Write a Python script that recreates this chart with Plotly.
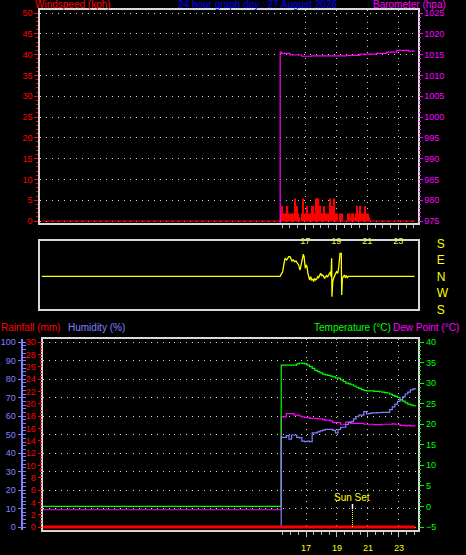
import plotly.graph_objects as go

W, H = 466, 555
FONT = "Liberation Sans, Arial, sans-serif"

# ---------------- data ----------------
date_title = "24 hour graph day : 27 August 2026"
hour_ticks = [17, 19, 21, 23]
hour_tick_labels = ["17", "19", "21", "23"]
half_hour_ticks = [15.5, 16, 16.5, 17.5, 18, 18.5, 19.5, 20, 20.5, 21.5, 22, 22.5, 23.5, 24]
day_span = [0, 24.05]

wind_tick_vals = [0, 5, 10, 15, 20, 25, 30, 35, 40, 45, 50]
baro_tick_vals = [975, 980, 985, 990, 995, 1000, 1005, 1010, 1015, 1020, 1025]
dir_tick_vals = [180, 90, 0, -90, -180]
dir_tick_text = ["S", "E", "N", "W", "S"]
rain_tick_vals = [0, 2, 4, 6, 8, 10, 12, 14, 16, 18, 20, 22, 24, 26, 28, 30]
hum_tick_vals = [0, 10, 20, 30, 40, 50, 60, 70, 80, 90, 100]
temp_tick_vals = [-5, 0, 5, 10, 15, 20, 25, 30, 35, 40]

# windspeed (kph), 5-minute samples from 15.4 h
wind_start = 15.4
wind_step = 1 / 12
wind_kph = [1.8, 3.6, 1.8, 1.8, 1.8, 3.6, 1.8, 0.9, 1.8, 1.8,
            1.8, 5.4, 3.6, 1.8, 0.9, 0.0, 1.8, 5.4, 1.8, 1.8,
            3.6, 0.9, 1.8, 1.8, 3.6, 3.6, 1.8, 5.4, 5.4, 5.4,
            3.6, 1.8, 1.8, 3.6, 1.8, 1.8, 1.8, 1.8, 5.4, 3.6,
            3.6, 5.4, 1.8, 1.8, 0.0, 0.0, 1.8, 1.8, 0.0, 0.0,
            0.0, 0.0, 1.8, 1.8, 0.9, 1.8, 1.8, 0.9, 1.8, 3.6,
            1.8, 3.6, 1.8, 1.8, 1.8, 3.6, 1.8, 1.8, 0.9]
wind_hours = [wind_start + i * wind_step for i in range(len(wind_kph))]
wind_baseline = [0, 0]

# barometer (hpa)
baro_hours = [0, 15.38, 15.48, 16.01, 16.77, 17.41, 19.67, 20.53, 21.6, 22.25, 22.9, 23.65, 24.05]
baro_hpa = [0, 1015.6, 1015.3, 1014.9, 1014.6, 1014.7, 1014.8, 1015.1, 1015.3, 1015.6, 1016.0, 1015.85, 1015.85]

# wind direction (degrees relative to north, E positive)
dir_hours = [0, 15.37, 15.48, 15.54, 15.63, 15.69, 15.80, 15.86, 15.93, 16.01, 16.08, 16.14, 16.23,
             16.31, 16.40, 16.49, 16.57, 16.66, 16.72, 16.81, 16.87, 16.92, 16.96, 17.00, 17.05,
             17.11, 17.17, 17.22, 17.28, 17.35, 17.41, 17.48, 17.54, 17.60, 17.67, 17.73, 17.80,
             17.86, 17.93, 17.99, 18.06, 18.12, 18.19, 18.25, 18.31, 18.38, 18.44, 18.51, 18.57,
             18.62, 18.66, 18.68, 18.70, 18.72, 18.77, 18.83, 18.89, 18.96, 19.02, 19.09, 19.15,
             19.20, 19.24, 19.32, 19.35, 19.39, 19.45, 19.52, 19.58, 19.65, 19.71, 19.78, 24.05]
dir_deg = [0, 0, 16, 25, 71, 98, 89, 98, 107, 107, 98, 83, 89,
           80, 83, 71, 62, 34, 62, 89, 120, 107, 71, 44, 62,
           53, 16, -11, -20, -2, -20, -16, -29, -11, -20, -15, -2,
           -7, 11, 16, 4, 7, -2, -11, -2, 4, -4, 7, 16,
           25, -2, 98, 98, -111, -29, -11, 7, 16, 25, 16, 44,
           80, 125, 125, -102, -11, -2, 7, -7, 4, -7, 0, 0]

# 10-minute samples from 15.4 h (temperature, humidity, dew point)
sample_start = 15.4
sample_step = 1 / 6
temp_c = [34.4, 34.4, 34.4, 34.4, 34.4, 34.4, 34.7, 34.9, 34.8, 34.7,
          34.4, 34.0, 33.6, 33.1, 32.8, 32.5, 32.2, 32.0, 31.9, 31.7,
          31.5, 31.3, 31.2, 30.8, 30.4, 30.0, 29.8, 29.6, 29.3, 29.0,
          28.7, 28.4, 28.2, 28.1, 28.1, 28.1, 28.0, 28.0, 27.9, 27.8,
          27.7, 27.6, 27.3, 27.0, 26.8, 26.5, 26.0, 25.6, 25.2, 24.9,
          24.7, 24.5, 24.3]
humidity_pct = [48.5, 48.5, 49.5, 47.5, 49.8, 49.8, 48.5, 48.2, 46.5, 46.2,
                46.5, 46.2, 51.0, 51.0, 51.5, 52.0, 52.5, 52.9, 52.9, 52.9,
                52.3, 51.0, 52.9, 54.0, 54.0, 55.5, 56.5, 57.0, 58.5, 59.7,
                60.6, 60.6, 62.5, 61.3, 61.5, 61.8, 61.8, 61.9, 61.9, 62.1,
                62.1, 62.1, 63.5, 65.0, 66.5, 68.0, 68.8, 70.5, 72.0, 73.0,
                74.2, 74.8, 75.1]
dew_c = [21.8, 21.8, 22.6, 22.6, 22.6, 22.2, 22.2, 22.0, 21.8, 21.6,
         21.6, 21.4, 21.4, 21.4, 21.3, 21.3, 21.1, 21.0, 21.0, 20.8,
         20.4, 20.4, 20.4, 20.0, 20.0, 20.5, 20.5, 20.2, 20.2, 20.2,
         20.2, 20.2, 20.0, 20.0, 20.0, 20.0, 19.9, 19.9, 19.9, 20.0,
         20.0, 20.0, 20.0, 20.1, 20.0, 20.0, 19.7, 19.7, 19.6, 19.7,
         19.6, 19.6, 19.6]
sample_hours = [sample_start + i * sample_step for i in range(len(temp_c))]
# values logged before the station came online
temp_pre, dew_pre, hum_pre = 0.0, -0.8, 0.0

rain_mm = [0.0, 0.0]
sunset_hour = 20.0

# ---------------- styling ----------------
RED = "#ff0000"
MAG = "#ff00ff"
BLUE = "#0000ff"
HUM = "#8080ff"
GRN = "#00ff00"
YEL = "#ffff00"
FRAME = "#d8d8d8"
GRID = "#d0d0d0"
TICK = "#c0c0c0"
DOT = "1px,5px"

top_x = [40 / W, 417.5 / W]
bot_x = [42.5 / W, 417.5 / W]
top_y = [1 - 223 / H, 1 - 10 / H]
mid_y = [1 - 309.3 / H, 1 - 241 / H]
bot_y = [1 - 530 / H, 1 - 339.3 / H]

fig = go.Figure()

# top panel
fig.add_trace(go.Scatter(x=day_span, y=wind_baseline, mode="lines",
                         line=dict(color=RED, width=1.2), xaxis="x", yaxis="y", hoverinfo="skip"))
fig.add_trace(go.Bar(x=wind_hours, y=wind_kph, width=wind_step, offset=0,
                     marker=dict(color=RED, line=dict(width=0)), xaxis="x", yaxis="y"))
fig.add_trace(go.Scatter(x=baro_hours, y=baro_hpa, mode="lines",
                         line=dict(color=MAG, width=1.2, shape="hv"), xaxis="x", yaxis="y2"))

# middle panel
fig.add_trace(go.Scatter(x=dir_hours, y=dir_deg, mode="lines",
                         line=dict(color=YEL, width=1.3), xaxis="x2", yaxis="y3"))

# bottom panel
fig.add_trace(go.Scatter(x=[0] + sample_hours, y=[dew_pre] + dew_c, mode="lines",
                         line=dict(color=MAG, width=1.2, shape="hv"), xaxis="x3", yaxis="y4"))
fig.add_trace(go.Scatter(x=[0] + sample_hours, y=[temp_pre] + temp_c, mode="lines",
                         line=dict(color=GRN, width=1.2, shape="hv"), xaxis="x3", yaxis="y4"))
fig.add_trace(go.Scatter(x=[0] + sample_hours, y=[hum_pre] + humidity_pct, mode="lines",
                         line=dict(color=HUM, width=1.2, shape="hv"), xaxis="x3", yaxis="y5"))
fig.add_trace(go.Scatter(x=day_span, y=rain_mm, mode="lines",
                         line=dict(color=RED, width=3), xaxis="x3", yaxis="y6"))


def tf(color, size=9):
    return dict(family=FONT, size=size, color=color)


def xaxis_common(domain, rng, anchor, labels=True):
    return dict(domain=domain, range=rng, anchor=anchor, showline=True, mirror=True,
                linecolor=FRAME, linewidth=1.5, zeroline=False, automargin=False,
                showgrid=labels, gridcolor=GRID, griddash=DOT, gridwidth=1,
                tickmode="array", tickvals=hour_ticks, ticktext=hour_tick_labels,
                ticks="outside" if labels else "", ticklen=5, tickcolor=TICK, tickwidth=1,
                showticklabels=labels, tickfont=tf(YEL), ticklabelstandoff=3,
                minor=dict(tickmode="array", tickvals=half_hour_ticks, ticks="outside" if labels else "",
                           ticklen=3, tickcolor=TICK, showgrid=False),
                fixedrange=True)


fig.update_layout(
    width=W, height=H, margin=dict(l=0, r=0, t=0, b=0, autoexpand=False),
    paper_bgcolor="black", plot_bgcolor="black", showlegend=False,
    xaxis=xaxis_common(top_x, [-0.116, 24.239], "y"),
    yaxis=dict(domain=top_y, range=[-0.481, 50.721], anchor="x", side="left", automargin=False,
               showline=True, mirror=True, linecolor=FRAME, linewidth=1.5, zeroline=False,
               showgrid=True, gridcolor=GRID, griddash=DOT, gridwidth=1,
               tickmode="array", tickvals=wind_tick_vals, ticks="outside", ticklen=4,
               tickcolor=RED, tickfont=tf(RED),
               minor=dict(tickmode="linear", tick0=0, dtick=1, ticks="outside", ticklen=2,
                          tickcolor=RED, showgrid=False)),
    yaxis2=dict(range=[974.519, 1025.721], overlaying="y", anchor="x", side="right", automargin=False,
                showline=False, zeroline=False, showgrid=False,
                tickmode="array", tickvals=baro_tick_vals, ticks="outside", ticklen=4,
                tickcolor=MAG, tickfont=tf(MAG),
                minor=dict(tickmode="linear", tick0=975, dtick=1, ticks="outside", ticklen=2,
                           tickcolor=MAG, showgrid=False)),
    xaxis2=xaxis_common(top_x, [-0.116, 24.239], "y3", labels=False),
    yaxis3=dict(domain=mid_y, range=[-180, 192.6], anchor="x2", side="right", automargin=False,
                showline=True, mirror=True, linecolor=FRAME, linewidth=1.5, zeroline=False,
                showgrid=False, tickmode="array", tickvals=dir_tick_vals, ticktext=dir_tick_text,
                ticks="", tickfont=tf(YEL, 12), ticklabelstandoff=15),
    xaxis3=xaxis_common(bot_x, [0, 24.194], "y4"),
    yaxis4=dict(domain=bot_y, range=[-5.73, 40.66], anchor="x3", side="right", automargin=False,
                showline=True, mirror=True, linecolor=FRAME, linewidth=1.5, zeroline=False,
                showgrid=False, tickmode="array", tickvals=temp_tick_vals, ticks="outside",
                ticklen=5, tickcolor=GRN, tickfont=tf(GRN),
                minor=dict(tickmode="linear", tick0=0, dtick=1, ticks="outside", ticklen=2,
                           tickcolor=GRN, showgrid=False)),
    yaxis5=dict(range=[-1.624, 101.624], overlaying="y4", anchor="free", position=21.5 / W,
                side="left", showline=True, linecolor=HUM, linewidth=2, zeroline=False, automargin=False,
                showgrid=True, gridcolor=GRID, griddash=DOT, gridwidth=1,
                tickmode="array", tickvals=hum_tick_vals, ticks="outside", ticklen=3,
                tickcolor=HUM, tickfont=tf(HUM),
                minor=dict(tickmode="linear", tick0=0, dtick=2, ticks="inside", ticklen=3,
                           tickcolor=HUM, showgrid=False)),
    yaxis6=dict(range=[-0.487, 30.487], overlaying="y4", anchor="x3", side="left", automargin=False,
                showline=False, zeroline=False, showgrid=False,
                tickmode="array", tickvals=rain_tick_vals, ticks="outside", ticklen=4,
                tickcolor=RED, tickfont=tf(RED),
                minor=dict(tickmode="linear", tick0=0, dtick=0.5, ticks="outside", ticklen=2,
                           tickcolor=RED, showgrid=False)),
)

# titles
titles = [
    ("Windspeed (kph)", 34, 4.5, RED, "left"),
    (date_title, 257, 4.5, BLUE, "center"),
    ("Barometer (hpa)", 372, 4, MAG, "left"),
    ("Rainfall (mm)", 0, 327, RED, "left"),
    ("Humidity (%)", 67, 327, HUM, "left"),
    ("Temperature (°C)", 313, 327, GRN, "left"),
    ("Dew Point (°C)", 392, 327, MAG, "left"),
]
for text, xp, yp, color, anchor in titles:
    fig.add_annotation(text=text, xref="paper", yref="paper", x=xp / W, y=1 - yp / H,
                       xanchor=anchor, yanchor="middle", showarrow=False, borderpad=0,
                       font=dict(family=FONT, size=10, color=color))

# sunset marker
fig.add_shape(type="line", xref="x3", yref="y6", x0=sunset_hour, x1=sunset_hour, y0=2.87, y1=3.75,
              line=dict(color="#ffffff", width=1.5))
fig.add_shape(type="line", xref="x3", yref="y6", x0=sunset_hour, x1=sunset_hour, y0=0, y1=2.87,
              line=dict(color=YEL, width=1, dash="1px,1px"))
fig.add_annotation(text="Sun Set", xref="x3", yref="paper", x=sunset_hour, y=1 - 497.5 / H,
                   xanchor="center", yanchor="middle", showarrow=False, borderpad=0,
                   font=dict(family=FONT, size=10, color=YEL))

fig.write_html("out.html", config={"displayModeBar": False},
               post_script="document.body.style.margin='0';document.body.style.overflow='hidden';")
